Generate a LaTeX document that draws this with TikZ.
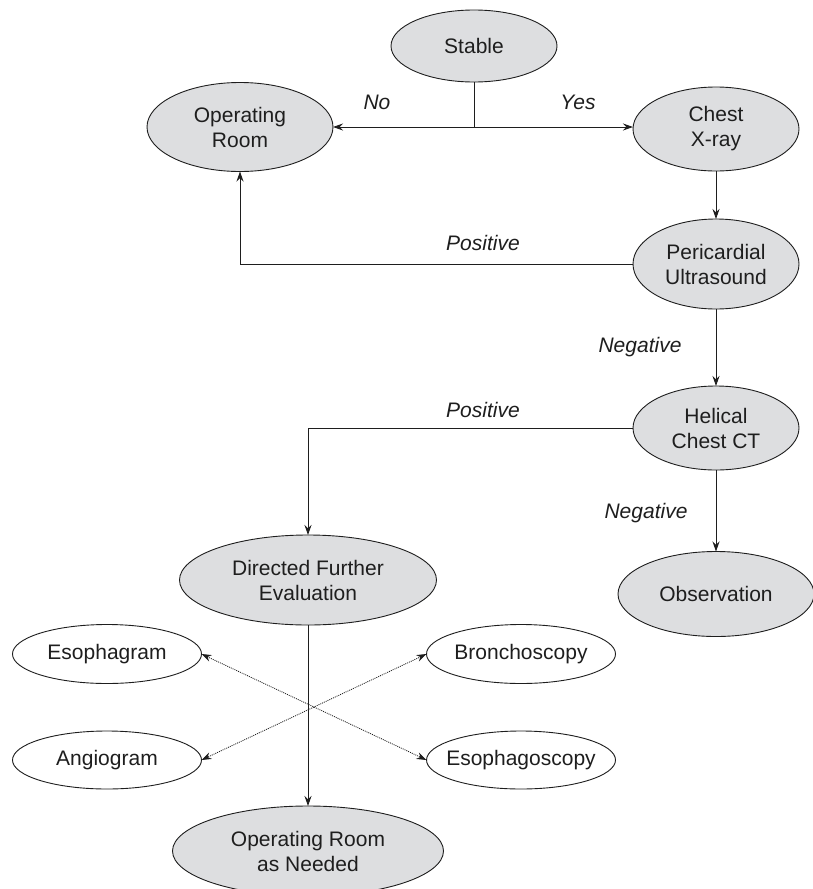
\documentclass[tikz,border=0pt]{standalone}
\usepackage{fontspec}
\setmainfont{Liberation Sans}
\usetikzlibrary{shapes.geometric,arrows.meta}
\definecolor{nodegray}{RGB}{221,222,224}
\definecolor{ink}{RGB}{30,30,30}
\begin{document}
\begin{tikzpicture}[x=1pt,y=-1pt,
  ell/.style={ellipse, draw=ink, line width=0.9pt, inner sep=0pt, outer sep=0pt},
  gr/.style={ell, fill=nodegray},
  wh/.style={ell, fill=white},
  txt/.style={font=\fontsize{21}{25}\selectfont, align=center, text=ink, inner sep=0pt},
  lab/.style={font=\fontsize{21}{25}\selectfont\itshape, text=ink, inner sep=0pt},
  conn/.style={draw=ink, line width=0.9pt},
  arr/.style={conn, -{Stealth[length=10pt,width=7pt]}},
  dotarr/.style={draw=ink, line width=0.8pt, dash pattern=on 1pt off 1pt, {Stealth[length=10pt,width=7pt]}-{Stealth[length=10pt,width=7pt]}},
]
\useasboundingbox (0,0) rectangle (813,889);

% main nodes
\node[gr, minimum width=166pt, minimum height=72pt, label={[txt]center:Stable}] (stable) at (474,46) {};
\node[gr, minimum width=186pt, minimum height=89pt, label={[txt]center:{Operating\\Room}}] (or) at (240,127) {};
\node[gr, minimum width=166pt, minimum height=84pt, label={[txt]center:{Chest\\X-ray}}] (chest) at (716,129) {};
\node[gr, minimum width=166pt, minimum height=90pt, label={[txt]center:{Pericardial\\Ultrasound}}] (peri) at (716,264) {};
\node[gr, minimum width=166pt, minimum height=84pt, label={[txt]center:{Helical\\Chest CT}}] (hel) at (716,428) {};
\node[gr, minimum width=196pt, minimum height=85pt, label={[txt]center:Observation}] (obs) at (716,594) {};
\node[gr, minimum width=257pt, minimum height=90pt, label={[txt]center:{Directed Further\\Evaluation}}] (dir) at (308,580) {};
\node[wh, minimum width=189pt, minimum height=59pt, label={[txt]center:Esophagram}] (esg) at (107,654) {};
\node[wh, minimum width=189pt, minimum height=59pt, label={[txt]center:Bronchoscopy}] (bro) at (521,654) {};
\node[wh, minimum width=189pt, minimum height=58pt, label={[txt]center:Angiogram}] (ang) at (107,760) {};
\node[wh, minimum width=189pt, minimum height=58pt, label={[txt]center:Esophagoscopy}] (esc) at (521,760) {};
\node[gr, minimum width=271pt, minimum height=90pt, label={[txt]center:{Operating Room\\as Needed}}] (orn) at (308,851) {};

% connectors
\coordinate (j) at (474,127);
\draw[conn] (stable.south) -- (j);
\draw[arr] (j) -- (or.east);
\draw[arr] (j) -- (j -| chest.west);
\draw[arr] (chest.south) -- (peri.north);
\draw[arr] (peri.west) -| (or.south);
\draw[arr] (peri.south) -- (hel.north);
\draw[arr] (hel.west) -| (dir.north);
\draw[arr] (hel.south) -- (obs.north);
\draw[arr] (dir.south) -- (orn.north);
\draw[dotarr] (esg.east) -- (esc.west);
\draw[dotarr] (bro.west) -- (ang.east);

% labels
\node[lab] (lno) at (377,102) {No};
\node[lab] (lyes) at (578,102) {Yes};
\node[lab] (lpos1) at (483,243) {Positive};
\node[lab] (lneg1) at (640,347) {Negative};
\node[lab] (lpos2) at (483,410) {Positive};
\node[lab] (lneg2) at (646,513) {Negative};
\end{tikzpicture}
\end{document}
